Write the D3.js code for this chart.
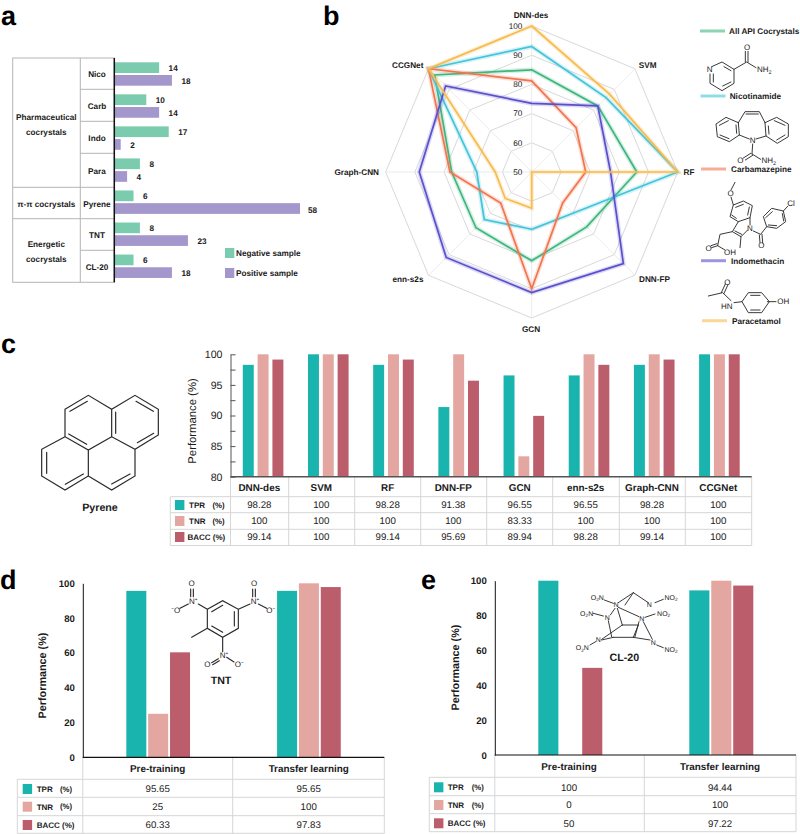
<!DOCTYPE html>
<html><head><meta charset="utf-8">
<style>html,body{margin:0;padding:0;background:#fff}svg{display:block}text{font-family:"Liberation Sans",Arial,sans-serif;fill:#1a1a1a;text-rendering:geometricPrecision}</style>
<script src="https://cdn.jsdelivr.net/npm/d3@7"></script>
</head><body><svg id="c" width="800" height="834"></svg>
<script>
// ---------- data ----------
const sampleCats = ["Nico","Carb","Indo","Para","Pyrene","TNT","CL-20"];
const negativeSample = [14,10,17,8,6,8,6];
const positiveSample = [18,14,2,4,58,23,18];

const radarAxes = ["DNN-des","SVM","RF","DNN-FP","GCN","enn-s2s","Graph-CNN","CCGNet"];
const radarTicks = [50,60,70,80,90,100];
const allApi = [85,82,86,76.6,80.4,77,77.4,97];
const nicotinamide = [93,86,100,70,69.6,73,68.8,100];
const carbamazepine = [81.2,71.5,68.5,65,90,65,78,100];
const indomethacin = [73.5,82,77,94.4,91.3,91.4,88.5,91.7];
const paracetamol = [100,87.7,100,50,62.4,62.8,62.5,100];

const pyreneModels = radarAxes;
const pyreneTPR = [98.28,100,98.28,91.38,96.55,96.55,98.28,100];
const pyreneTNR = [100,100,100,100,83.33,100,100,100];
const pyreneBACC = [99.14,100,99.14,95.69,89.94,98.28,99.14,100];

const phases = ["Pre-training","Transfer learning"];
const tntTPR = [95.65,95.65];
const tntTNR = [25,100];
const tntBACC = [60.33,97.83];
const cl20TPR = [100,94.44];
const cl20TNR = [0,100];
const cl20BACC = [50,97.22];

const metrics = ["TPR","TNR","BACC"];
const metricColor = {TPR:"#1ab4ae",TNR:"#e4a6a0",BACC:"#bb5d6a"};

// ---------- helpers ----------
const svg = d3.select("#c");
function txt(g,x,y,s,o={}){
  return g.append("text").attr("x",x).attr("y",y).attr("dy","0.35em")
    .attr("text-anchor",o.anchor||"middle").attr("font-size",o.size||8.2)
    .attr("font-weight",o.weight||"bold").text(s);
}
function hl(g,x1,y1,x2,y2,c="#c9c9c9",w=1){
  return g.append("line").attr("x1",x1).attr("y1",y1).attr("x2",x2).attr("y2",y2).attr("stroke",c).attr("stroke-width",w);
}
[["a",1,24.5],["b",323,24.5],["c",1,353],["d",0,589],["e",421,589]].forEach(([s,x,y])=>{
  svg.append("text").attr("x",x).attr("y",y).attr("font-size",27).attr("font-weight","bold").style("fill","#000").text(s);
});

// ---------- panel a ----------
(function(){
  const g = svg.append("g");
  const L=12.7,M=80.3,A=114.3,T=58,B=282.3;
  const ys=[T,89.3,121.3,153.3,187.3,218.7,250.3,B];
  g.append("rect").attr("x",L).attr("y",T).attr("width",A-L).attr("height",B-T).attr("fill","none").attr("stroke","#b5b5b5");
  hl(g,M,T,M,B,"#b5b5b5");
  ys.slice(1,-1).forEach(y=>hl(g,M,y,A,y,"#b5b5b5"));
  [187.3,218.7].forEach(y=>hl(g,L,y,M,y,"#b5b5b5"));
  const x=d3.scaleLinear().domain([0,58]).range([A,300]);
  const y=d3.scaleBand().domain(sampleCats).range([T,B]);
  const labY=[74,105.7,137.7,171,204,235,266.7];
  sampleCats.forEach((c,i)=>{
    txt(g,97,labY[i],c);
    const b=y(c)+4.3;
    g.append("rect").attr("x",A).attr("y",b).attr("width",x(negativeSample[i])-A).attr("height",10.7).attr("fill","#7bcbae");
    g.append("rect").attr("x",A).attr("y",b+12.7).attr("width",x(positiveSample[i])-A).attr("height",10.7).attr("fill","#a497cb");
    txt(g,x(negativeSample[i])+9.5,b+5.6,negativeSample[i],{anchor:"start"});
    txt(g,x(positiveSample[i])+(positiveSample[i]>50?8:9.5),b+(positiveSample[i]>50?20:18.6),positiveSample[i],{anchor:"start"});
  });
  hl(g,A,T,A,B,"#111",1.5);
  txt(g,46.3,116.7,"Pharmaceutical");txt(g,46.3,131.7,"cocrystals");
  txt(g,46.3,204,"π-π cocrystals");
  txt(g,46.3,244.3,"Energetic");txt(g,46.3,259.3,"cocrystals");
  g.append("rect").attr("x",225).attr("y",248).attr("width",9.3).attr("height",10).attr("fill","#7bcbae");
  g.append("rect").attr("x",225).attr("y",268).attr("width",9.3).attr("height",10).attr("fill","#a497cb");
  txt(g,236,253,"Negative sample",{anchor:"start"});
  txt(g,236,273.5,"Positive sample",{anchor:"start"});
})();

// ---------- panel b ----------
(function(){
  const g = svg.append("g").attr("transform","translate(531.7,172)");
  const r=d3.scaleLinear().domain([50,100]).range([0,146]);
  const ang=d3.scalePoint().domain(radarAxes).range([0,Math.PI*2*7/8]);
  radarTicks.slice(1).forEach(t=>{
    g.append("path").attr("fill","none").attr("stroke","#d4d4d4").attr("stroke-width",0.9)
     .attr("d",d3.lineRadial().curve(d3.curveLinearClosed).angle(a=>ang(a)).radius(()=>r(t))(radarAxes));
  });
  radarAxes.forEach(a=>{
    const t=ang(a)-Math.PI/2;
    hl(g,0,0,r(100)*Math.cos(t),r(100)*Math.sin(t),"#e6e6e6",0.8);
  });
  const radar=(vals)=>d3.lineRadial().curve(d3.curveLinearClosed).angle((d,i)=>ang(radarAxes[i])).radius(d=>r(d))(vals);
  const series=[[allApi,"#3eb681"],[nicotinamide,"#42c4da"],[carbamazepine,"#f1754f"],[indomethacin,"#5a50cf"],[paracetamol,"#f8bb4e"]];
  series.forEach(([v,c])=>{
    g.append("path").attr("d",radar(v)).attr("fill","none").attr("stroke",c).attr("stroke-opacity",0.22).attr("stroke-width",4.6).attr("stroke-linejoin","miter");
    g.append("path").attr("d",radar(v)).attr("fill","none").attr("stroke",c).attr("stroke-width",1.7).attr("stroke-linejoin","miter");
  });
  radarTicks.forEach(t=>txt(g,-9.4,-r(t),t,{anchor:"end",size:8.2,weight:"normal"}));
  const root=svg.append("g");
  [["DNN-des",531,15,"middle"],["SVM",647.7,64.7,"middle"],["RF",689,172,"middle"],["DNN-FP",639,279.3,"start"],
   ["GCN",531,329,"middle"],["enn-s2s",408,279.3,"middle"],["Graph-CNN",379,172,"end"],["CCGNet",407.7,64.7,"middle"]]
   .forEach(([s,x,y,an])=>txt(root,x,y,s,{anchor:an}));
  [["All API Cocrystals",700,729,31,"#3eb681"],["Nicotinamide",700.5,729.7,96,"#42c4da"],["Carbamazepine",701,731,169,"#f1754f"],
   ["Indomethacin",701,731,260.7,"#5a50cf"],["Paracetamol",702,732,320.7,"#f8bb4e"]].forEach(([s,x,tx,y,c])=>{
    hl(root,x,y,x+25,y,c,3).attr("stroke-opacity",0.6);
    txt(root,tx,y,s,{anchor:"start"});
  });
})();

// ---------- molecules (schematic decoration, coordinates in 3x units) ----------
function mol(ox,oy,segs,labels,sw=3.6){
  const g=svg.append("g").attr("transform",`translate(${ox},${oy}) scale(${1/3})`);
  g.append("path").attr("fill","none").attr("stroke","#2a2a2a").attr("stroke-width",sw).attr("stroke-linecap","round")
    .attr("d",segs.map(s=>{let d="";for(let i=0;i<s.length;i+=2)d+=(i?"L":"M")+s[i]+","+s[i+1];return d;}).join(""));
  (labels||[]).forEach(([s,x,y,size,weight])=>{
    const t=g.append("text").attr("x",x).attr("y",y).attr("dy","0.35em").attr("text-anchor","middle")
      .attr("font-size",size||24).attr("font-weight",weight||"normal");
    const parts=String(s).split("_");
    parts.forEach((p,i)=>{
      const isSub=i%2===1;
      const ts=t.append("tspan").text(p).attr("font-size",isSub?(size||24)*0.68:(size||24));
      if(isSub)ts.attr("dy",5);else if(i>0)ts.attr("dy",-5);
    });
  });
}
// pyrene
mol(0,320,[[195,268,265,226,335,268,405,226,475,268,475,345,405,388,335,350,335,268],[195,268,195,350,265,390,335,350],
 [195,350,125,388,125,468,195,510,265,468,265,390],[265,468,335,510,405,468,405,388],
 [210,274,262,244],[347,276,347,340],[408,244,460,274],[461,340,412,368],[206,342,260,373],[140,397,140,460],[196,493,250,462],[335,492,390,462]],
 [["Pyrene",300,561,32,"bold"]]);
// TNT
mol(0,540,[[622,208,668,182,715,208,715,265,668,292,622,265,622,208],[635,215,668,196],[703,215,703,258],[635,258,668,277],
 [622,265,575,292],[622,208,595,192],[572,147,572,170],[580,147,580,170],[565,192,540,205],[715,208,750,192],[758,147,758,170],[766,147,766,170],[775,192,800,205],
 [668,292,668,335],[635,368,655,356],[638,374,658,362],[680,352,702,366]],
 [["O",575,130],["N⁺",580,185],["⁻O",527,210],["O",762,130],["N⁺",765,185],["O⁻",812,210],["N⁺",672,347],["O",622,373],["O⁻",718,373],["TNT",663,422,32,"bold"]],3.4);
// CL-20
mol(565,580,[[205,38,160,68],[205,38,250,68],[205,38,180,75],[160,82,222,110],[118,60,145,70],[270,68,295,58],[85,100,115,108],
 [130,122,140,170],[136,105,150,85],[240,112,270,102],[172,135,220,135],[157,85,172,135],[172,135,110,178],[145,172,205,172],
 [205,172,220,135],[222,125,210,170],[205,172,255,180],[235,125,262,178],[110,180,145,172],[75,195,92,185],[275,195,295,203]],
 [["O_2_N",97,52,21],["N",153,75,21],["N",253,75,21],["NO_2",318,52,21],["O_2_N",65,100,21],["N",127,112,21],["N",230,115,21],["NO_2",296,100,21],["O_2_N",52,203,21],["N",100,180,21],["N",265,187,21],["NO_2",318,208,21],["CL-20",178,232,32,"bold"]],2.8);
// nicotinamide
mol(660,0,[[155,200,186,186,222,208,222,250,186,272,150,250,150,222],[192,200,213,212],[213,246,188,258],[160,246,160,222],[222,208,260,186,288,203],[256,186,256,154],[264,186,264,154]],
 [["N",149,208],["O",261,143],["NH_2",313,209]],2.8);
// carbamazepine
mol(660,0,[[235,368,198,352,168,372,172,410,208,425,238,405,235,368],[315,368,350,352,385,372,385,410,352,430,318,408,315,368],
 [235,368,255,335,298,335,315,368],[258,342,295,342],[205,362,178,376],[180,405,207,416],[230,400,228,375],[343,362,375,376],[375,405,350,420],[325,378,327,402],
 [238,405,268,417],[318,408,288,417],[278,432,276,462],[276,462,302,478],[272,460,250,474],[278,466,256,480]],
 [["N",278,422],["O",241,480],["NH_2",326,482]],2.8);
// indomethacin
mol(695,175,[[120,22,108,45],[108,66,115,90,145,78,172,92,165,128,130,140,105,125,115,90],[145,88,122,97],[163,96,158,120],[124,130,110,120],
 [130,140,112,170,138,185,158,165],[165,128,165,150],[120,168,140,178],
 [112,170,75,178,68,212,90,225],[68,212,50,218],[66,206,48,212],[138,185,135,218],
 [175,168,197,178,215,155,205,125,230,100,265,108,272,140,245,160,215,155],[193,180,195,203],[201,178,203,203],[212,128,232,110],[262,116,266,138],[245,152,220,150],[265,108,278,94]],
 [["O",107,55],["N",165,160],["O",199,212],["Cl",288,85],["O",41,220],["OH",105,232]],2.8);
// paracetamol
mol(660,0,[[145,888,188,878,213,902],[184,878,196,852],[192,880,204,854],[222,908,246,905,265,878,305,878,328,905,305,938,265,938,246,905],[272,886,300,886],[272,930,300,930],[322,905,348,905]],
 [["O",202,848],["HN",200,918],["OH",370,905]],2.8);

// ---------- bar + table panels ----------
function barPanel(o){
  const g=svg.append("g");
  const y=d3.scaleLinear().domain(o.domain).range([o.y0,o.y1]);
  const x=d3.scaleBand().domain(o.cats).range([o.ax,o.barRight]);
  const m=d3.scaleBand().domain(metrics).range([x.bandwidth()/2-o.groupW/2,x.bandwidth()/2+o.groupW/2]).paddingInner(o.gap);
  metrics.forEach((k,j)=>{
    g.selectAll(null).data(o.vals[j]).join("rect")
      .attr("x",(d,i)=>x(o.cats[i])+m(k))
      .attr("y",d=>y(d)).attr("width",m.bandwidth()).attr("height",d=>o.y0-y(d)).attr("fill",metricColor[k]);
  });
  const t=o.table, gc="#d6d6d6", bottom=t.rows[t.rows.length-1];
  t.rows.forEach(ry=>hl(g,t.left,ry,t.right,ry,gc,t.lw));
  hl(g,t.left,t.rows[0],t.left,bottom,gc,t.lw);
  hl(g,t.right,o.y0,t.right,bottom,gc,t.lw);
  t.seps.forEach(sx=>hl(g,sx,o.y0,sx,bottom,gc,t.lw));
  hl(g,o.ax,o.y0,o.ax,bottom,gc,t.lw);
  const axis=d3.axisLeft(y).tickValues(o.ticks).tickFormat(v=>o.major.includes(v)?v:"").tickSizeInner(o.inTick?-5:0).tickSizeOuter(0).tickPadding(8);
  const ag=g.append("g").attr("transform",`translate(${o.ax},0)`).call(axis);
  ag.select(".domain").attr("stroke",o.axisColor).attr("stroke-width",o.axW);
  ag.selectAll(".tick line").attr("stroke",o.axisColor);
  ag.selectAll("text").attr("font-size",o.tickSize).attr("font-weight",o.tickWeight);
  hl(g,o.ax,o.y0,t.right,o.y0,o.axisColor,o.xW);
  g.append("text").attr("transform",`translate(${o.ylx},${o.yly}) rotate(-90)`).attr("dy","0.35em").attr("text-anchor","middle")
    .attr("font-size",o.ylSize).attr("font-weight",o.ylWeight).text("Performance (%)");
  o.cats.forEach((c,i)=>{
    txt(g,t.cx[i],t.hy,c,{size:9.9});
    metrics.forEach((k,j)=>txt(g,t.cx[i],t.vy[j],o.vals[j][i],{size:9.7,weight:"normal"}));
  });
  metrics.forEach((k,j)=>{
    g.append("rect").attr("x",t.sx).attr("y",t.vy[j]-5).attr("width",9.4).attr("height",10).attr("fill",metricColor[k]);
    if(k==="BACC"){txt(g,t.tx-(t.bacOff||0),t.vy[j],"BACC (%)",{anchor:"start",size:8});}
    else{txt(g,t.tx,t.vy[j],k,{anchor:"start",size:8});txt(g,t.px,t.vy[j],"(%)",{anchor:"start",size:7.8});}
  });
}
barPanel({cats:pyreneModels,vals:[pyreneTPR,pyreneTNR,pyreneBACC],domain:[80,100],y0:476.7,y1:354.3,ax:230.5,barRight:752,groupW:40.6,gap:0.26,
  ticks:d3.range(80,100.1,2.5),major:[80,85,90,95,100],inTick:true,axisColor:"#555",axW:1,xW:1.5,tickSize:10.6,tickWeight:"normal",
  ylx:192.3,yly:421,ylSize:11.3,ylWeight:"normal",
  table:{left:170.3,right:751.7,rows:[496.7,512.7,529.3,545.5],seps:[288.7,354.7,420.7,486.7,552.7,619.3,685.3],lw:1,
    cx:[259.3,321.3,387.7,453.3,519.7,585.7,652,718.3],hy:487.3,vy:[505,521,537],sx:175,tx:189,px:212.5,bacOff:1.5}});
barPanel({cats:phases,vals:[tntTPR,tntTNR,tntBACC],domain:[0,100],y0:757.3,y1:583.3,ax:82.8,barRight:384.3,groupW:63.7,gap:0.085,
  ticks:[0,20,40,60,80,100],major:[0,20,40,60,80,100],inTick:false,axisColor:"#111",axW:1,xW:1.2,tickSize:9.6,tickWeight:"bold",
  ylx:42.7,yly:675.5,ylSize:10.8,ylWeight:"bold",
  table:{left:17.3,right:384.3,rows:[779.3,797.3,815.7,833.3],seps:[232.7],lw:1,cx:[157.7,308.7],hy:768.7,vy:[789,806.7,825],sx:22.7,tx:36.7,px:60}});
barPanel({cats:phases,vals:[cl20TPR,cl20TNR,cl20BACC],domain:[0,100],y0:755,y1:580.7,ax:494.8,barRight:796.8,groupW:64,gap:0.085,
  ticks:[0,20,40,60,80,100],major:[0,20,40,60,80,100],inTick:false,axisColor:"#111",axW:1,xW:1.2,tickSize:9.6,tickWeight:"bold",
  ylx:455,yly:667.5,ylSize:10.8,ylWeight:"bold",
  table:{left:429.3,right:796,rows:[777.3,795.7,813.7,831.7],seps:[644.3],lw:1,cx:[569,720],hy:766.7,vy:[787.3,805,823.3],sx:434,tx:447.7,px:471.7}});
</script></body></html>
